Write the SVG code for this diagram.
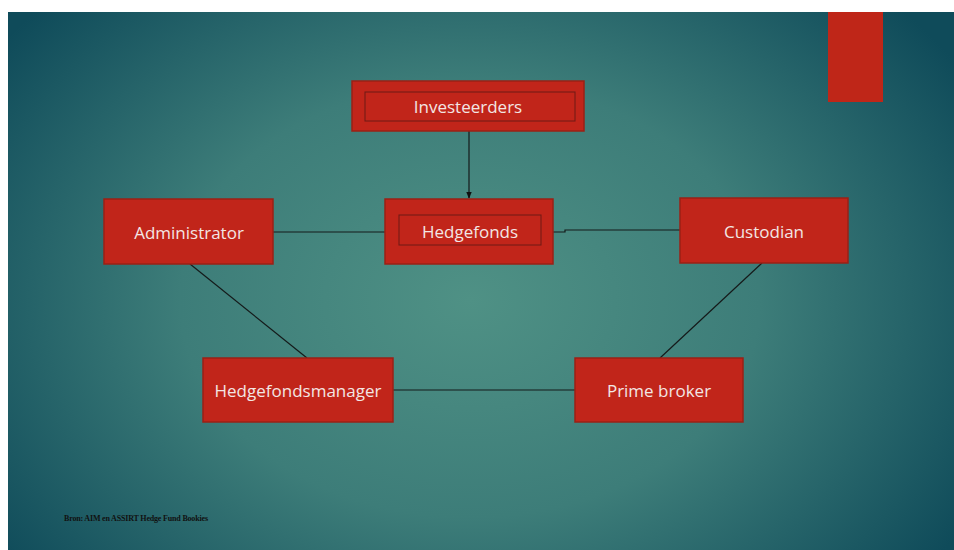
<svg xmlns="http://www.w3.org/2000/svg" width="954" height="550" viewBox="0 0 954 550">
<defs>
<radialGradient id="bg" cx="470" cy="300" r="580" gradientUnits="userSpaceOnUse" gradientTransform="translate(470 300) scale(1 0.75) translate(-470 -300)">
<stop offset="0" stop-color="#4f9185"/>
<stop offset="0.5" stop-color="#3d7d79"/>
<stop offset="1" stop-color="#0f4b5a"/>
</radialGradient>
<marker id="arr" viewBox="0 0 10 10" refX="9" refY="5" markerWidth="6" markerHeight="6" orient="auto">
<path d="M0,1 L10,5 L0,9 z" fill="#111"/>
</marker>
<style>
.box{fill:#c1251a;stroke:#9a2016;stroke-width:1.5}
.inner{fill:none;stroke:#6e1a14;stroke-width:1}
.lbl{font-family:"Open Sans","Liberation Sans",sans-serif;font-size:17px;fill:#f3e6e4;text-anchor:middle;dominant-baseline:central}
.con{stroke:#151a1a;stroke-width:1.2;fill:none}
</style>
</defs>
<rect x="0" y="0" width="954" height="550" fill="#ffffff"/>
<rect x="8" y="12" width="946" height="538" fill="url(#bg)"/>
<rect x="828" y="12" width="55" height="90" fill="#bf2618"/>
<g id="connectors">
<line class="con" x1="469" y1="131" x2="469" y2="198" marker-end="url(#arr)"/>
<line class="con" x1="273" y1="232" x2="385" y2="232"/>
<polyline class="con" points="553,232 565,232 565,230 680,230"/>
<line class="con" x1="190" y1="264" x2="307" y2="358"/>
<line class="con" x1="762" y1="263" x2="660" y2="358"/>
<line class="con" x1="393" y1="390" x2="575" y2="390"/>
</g>
<g id="investeerders">
<rect class="box" x="352" y="81" width="232" height="50"/>
<rect class="inner" x="365" y="92" width="210" height="29"/>
<text class="lbl" x="468" y="106">Investeerders</text>
</g>
<g id="hedgefonds">
<rect class="box" x="385" y="199" width="168" height="65"/>
<rect class="inner" x="399" y="215" width="142" height="30"/>
<text class="lbl" x="470" y="231">Hedgefonds</text>
</g>
<g id="administrator">
<rect class="box" x="104" y="199" width="169" height="65"/>
<text class="lbl" x="189" y="232">Administrator</text>
</g>
<g id="custodian">
<rect class="box" x="680" y="198" width="168" height="65"/>
<text class="lbl" x="764" y="231">Custodian</text>
</g>
<g id="hedgefondsmanager">
<rect class="box" x="203" y="358" width="190" height="64"/>
<text class="lbl" x="298" y="390">Hedgefondsmanager</text>
</g>
<g id="primebroker">
<rect class="box" x="575" y="358" width="168" height="64"/>
<text class="lbl" x="659" y="390">Prime broker</text>
</g>
<text x="64" y="521" font-family="'Liberation Serif',serif" font-size="8px" font-weight="bold" fill="#111" textLength="144">Bron: AIM en ASSIRT Hedge Fund Bookies</text>
</svg>
